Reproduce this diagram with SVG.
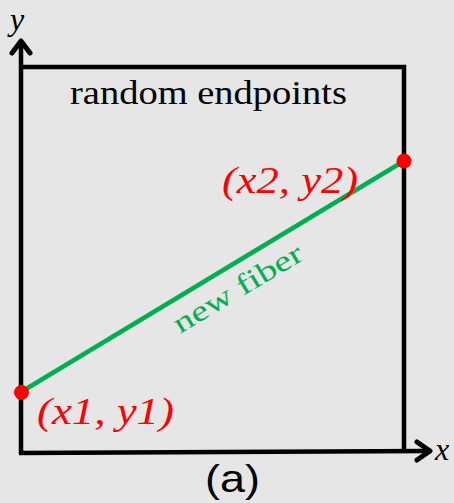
<svg xmlns="http://www.w3.org/2000/svg" width="454" height="503" viewBox="0 0 454 503">
<style>
.ax{stroke:#000;stroke-width:4.5;fill:none}
.ah{stroke:#000;stroke-width:5;fill:none;stroke-linecap:round;stroke-linejoin:round}
.pal{font-family:"Liberation Serif","DejaVu Serif",serif}
.lbl{fill:#ff0000;font-style:italic;font-size:38px}
</style>
<rect width="454" height="503" fill="#e6e6e6"/>
<g id="axes">
<path class="ax" d="M21,454 L21,42"/>
<path class="ah" d="M12,53 L21,41 L30,53"/>
<path class="ax" d="M19,453 L428,451"/>
<path class="ah" d="M417,442 L430,451 L417,460"/>
<path class="ax" d="M19,67 L404,67 L404,451"/>
<text class="pal" x="10" y="30" font-size="32" font-style="italic">y</text>
<text class="pal" x="435" y="460" font-size="32" font-style="italic">x</text>
</g>
<g id="title"><text class="pal" x="70" y="104" font-size="33" textLength="277" lengthAdjust="spacingAndGlyphs">random endpoints</text></g>
<g id="connectors">
<line x1="21" y1="392" x2="404" y2="161" stroke="#00b050" stroke-width="4.5"/>
<text class="pal" transform="translate(180,334) rotate(-31)" font-size="29" fill="#00b050" textLength="146" lengthAdjust="spacingAndGlyphs">new fiber</text>
</g>
<g id="p1">
<circle cx="21.5" cy="392.5" r="7.5" fill="#ff0000"/>
<text class="pal lbl" x="37" y="424" textLength="137" lengthAdjust="spacingAndGlyphs">(x1, y1)</text>
</g>
<g id="p2">
<circle cx="404" cy="161" r="7.5" fill="#ff0000"/>
<text class="pal lbl" x="222" y="193" textLength="136" lengthAdjust="spacingAndGlyphs">(x2, y2)</text>
</g>
<g id="caption"><text x="205" y="492" font-family="Liberation Sans, Arial, sans-serif" font-size="39" textLength="55" lengthAdjust="spacingAndGlyphs">(a)</text></g>
</svg>
